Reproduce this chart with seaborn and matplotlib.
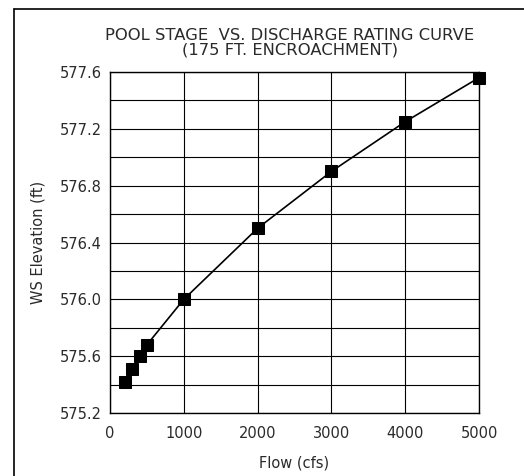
import matplotlib
matplotlib.use("Agg")
import matplotlib.pyplot as plt
from matplotlib.lines import Line2D
from matplotlib.ticker import MultipleLocator
import seaborn as sns
import pandas as pd

flow_cfs = [200, 300, 400, 500, 1000, 2000, 3000, 4000, 5000]
ws_elevation = [575.42, 575.51, 575.60, 575.68, 576.00, 576.50, 576.90, 577.25, 577.56]
x_ticks = [0, 1000, 2000, 3000, 4000, 5000]
y_ticks = [575.2, 575.6, 576.0, 576.4, 576.8, 577.2, 577.6]
title_lines = ["POOL STAGE  VS. DISCHARGE RATING CURVE", "(175 FT. ENCROACHMENT)"]

df = pd.DataFrame({"flow": flow_cfs, "elev": ws_elevation})

sns.set_style("white")
plt.rcParams["font.family"] = ["DejaVu Sans"]

txt = "#2a2a2a"
fig = plt.figure(figsize=(5.24, 4.76), dpi=100)
ax = fig.add_axes([110/524, 1 - 413/476, (479-110)/524, (413-72)/476])

sns.lineplot(data=df, x="flow", y="elev", ax=ax, color="black", linewidth=1.2,
             marker="s", markersize=9, markeredgecolor="black", markerfacecolor="black",
             zorder=5, clip_on=False)

ax.set_xlim(0, 5000)
ax.set_ylim(575.2, 577.6)
ax.set_xticks(x_ticks)
ax.set_yticks(y_ticks)
ax.yaxis.set_minor_locator(MultipleLocator(0.2))
ax.set_xticklabels([str(t) for t in x_ticks])
ax.set_yticklabels([f"{t:.1f}" for t in y_ticks])
ax.grid(True, which="both", color="black", linewidth=0.8)
ax.tick_params(which="both", length=0, labelsize=10.5, colors=txt)
ax.tick_params(axis="x", pad=9)
ax.tick_params(axis="y", pad=6)
for s in ax.spines.values():
    s.set_color("black")
    s.set_linewidth(1.0)

ax.set_xlabel("Flow (cfs)", fontsize=10.5, color=txt, labelpad=11)
ax.set_ylabel("WS Elevation (ft)", fontsize=10.5, color=txt, labelpad=10)

fig.text(290/524, 1 - 36/476, title_lines[0], ha="center", va="center", fontsize=11.8, color=txt)
fig.text(290/524, 1 - 50/476, title_lines[1], ha="center", va="center", fontsize=11.8, color=txt)

# outer drawing frame (top and left edges visible)
fig.add_artist(Line2D([14/524, 1], [1 - 9/476, 1 - 9/476], transform=fig.transFigure, color="black", linewidth=1.2))
fig.add_artist(Line2D([14/524, 14/524], [0, 1 - 9/476], transform=fig.transFigure, color="black", linewidth=1.2))

fig.savefig("out.png", dpi=100)
